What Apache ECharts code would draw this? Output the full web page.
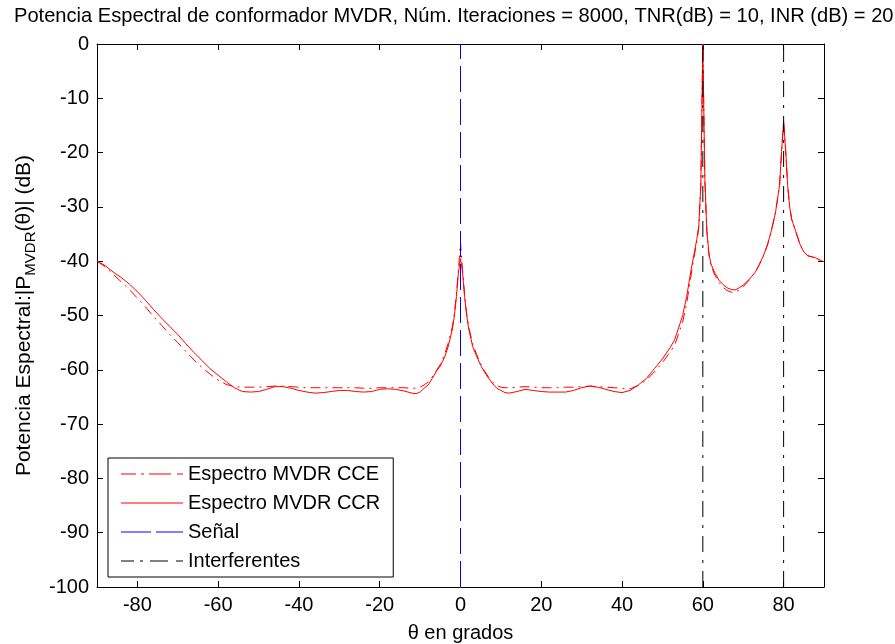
<!DOCTYPE html>
<html>
<head>
<meta charset="utf-8">
<script src="https://cdn.jsdelivr.net/npm/echarts@6/dist/echarts.min.js"></script>
<style>html,body{margin:0;padding:0;background:#fff;}#c{width:895px;height:644px;}</style>
</head>
<body>
<div id="c"></div>
<script>
var theta = [-90,-88,-86,-84,-82,-80,-78,-76,-74,-72,-70,-68,-66,-64,-62,-60,-58,-56,-54,-52,-50,-48,-46,-44,-42,-40,-38,-36,-34,-32,-30,-28,-26,-24,-22,-20,-18,-16,-14,-12,-11,-10,-9,-8,-7,-6,-5,-4,-3,-2,-1.5,-1,-0.5,0,0.5,1,1.5,2,3,4,5,6,7,8,9,10,11,12,14,16,18,20,22,24,26,28,30,32,34,36,38,40,42,44,46,48,50,52,53,54,55,56,57,58,58.5,59,59.5,60,60.5,61,61.5,62,63,64,65,66,67,68,69,70,71,72,73,74,75,76,77,78,78.5,79,79.5,80,80.5,81,81.5,82,83,84,85,86,87,88,89,90];

var ccr = [-40.0,-40.8,-42.0,-43.0,-44.2,-45.6,-47.2,-48.9,-50.5,-52.0,-53.5,-55.2,-56.8,-58.3,-59.8,-61.0,-62.2,-63.3,-64.0,-64.1,-64.0,-63.6,-63.1,-63.1,-63.4,-63.8,-64.1,-64.3,-64.2,-64.0,-63.8,-63.8,-64.0,-64.1,-64.0,-63.6,-63.5,-63.6,-63.9,-64.3,-64.4,-64.1,-63.4,-62.8,-61.6,-60.3,-59.3,-57.8,-55.6,-52.5,-50.0,-46.5,-42.0,-39.5,-42.0,-46.5,-49.8,-52.3,-55.7,-57.5,-59.2,-60.5,-61.6,-62.6,-63.4,-63.8,-64.2,-64.3,-64.0,-63.6,-63.8,-64.0,-64.1,-64.1,-64.1,-63.8,-63.3,-63.0,-63.2,-63.6,-64.0,-64.2,-63.8,-62.8,-61.6,-59.8,-58.0,-55.8,-54.5,-52.3,-50.0,-46.5,-42.0,-38.0,-36.0,-33.5,-26.0,0,-25.0,-34.5,-38.5,-40.5,-42.2,-43.5,-44.3,-44.9,-45.2,-45.3,-44.9,-44.4,-43.7,-42.9,-42.0,-40.6,-39.0,-37.0,-34.3,-31.0,-28.5,-26.0,-19.8,-14.3,-19.5,-26.0,-30.0,-32.3,-34.5,-36.8,-38.3,-39.0,-39.2,-39.4,-39.8,-40.1];

var cce = [-40.0,-41.0,-42.4,-43.8,-45.2,-46.8,-48.4,-50.2,-51.8,-53.5,-55.0,-56.6,-58.2,-59.6,-60.8,-61.9,-62.7,-63.1,-63.2,-63.2,-63.2,-63.1,-63.0,-63.0,-63.1,-63.2,-63.3,-63.3,-63.3,-63.3,-63.3,-63.3,-63.3,-63.4,-63.4,-63.3,-63.3,-63.3,-63.3,-63.4,-63.4,-63.2,-62.8,-62.2,-61.3,-60.2,-59.0,-57.3,-55.0,-52.0,-49.5,-46.0,-41.5,-36.5,-41.5,-46.0,-49.5,-52.0,-55.2,-57.2,-58.9,-60.3,-61.4,-62.3,-62.9,-63.2,-63.3,-63.3,-63.2,-63.1,-63.2,-63.3,-63.3,-63.3,-63.2,-63.2,-63.1,-63.0,-63.1,-63.2,-63.3,-63.4,-63.5,-62.9,-61.9,-60.4,-58.7,-56.6,-55.5,-53.4,-51.2,-47.8,-43.0,-38.5,-36.4,-33.8,-26.0,0,-25.0,-34.5,-38.7,-40.8,-42.6,-43.9,-44.8,-45.4,-45.7,-45.7,-45.3,-44.7,-43.9,-43.0,-42.0,-40.6,-39.0,-37.0,-34.3,-31.0,-28.5,-26.0,-19.8,-14.3,-19.5,-26.0,-30.0,-32.3,-34.5,-36.8,-38.3,-39.0,-39.2,-39.4,-39.8,-40.1];

var signalAngle = [0];
var interfAngles = [60, 80];
var xTicks = [-80,-60,-40,-20,0,20,40,60,80];
var yRange = [-100, 0];
var legendNames = ['Espectro MVDR CCE','Espectro MVDR CCR','Señal','Interferentes'];
var titleText = 'Potencia Espectral de conformador MVDR, Núm. Iteraciones = 8000, TNR(dB) = 10, INR (dB) = 20';

var FONT = "'Liberation Sans',Arial,Helvetica,sans-serif";
var RED = '#ff0000', BLUE = '#0000ff', BLACK = '#000000';

function pairs(xs, ys){ return xs.map(function(x,i){ return [x, ys[i]]; }); }

// legend glyphs (62 x 14 box): thin bars forming the dash patterns
function seg(a, b){ return 'M' + a + ',6.5H' + b + 'V7.5H' + a + 'Z'; }
function icon(segs){
  var p = 'path://M0,0L0.01,0L0,0.01Z M62,14L61.99,14L62,13.99Z ';
  segs.forEach(function(s){ p += seg(s[0], s[1]) + ' '; });
  return p;
}
var iconCCE = icon([[0,15],[20,23],[28,50],[56,62]]);
var iconCCR = icon([[0,62]]);
var iconSig = icon([[0,30],[35,62]]);
var iconInt = icon([[0,13],[19,22],[29,47],[55,62]]);

var series = [
  { name:legendNames[0], type:'line', data: pairs(theta, cce), showSymbol:false, symbol:'none',
    lineStyle:{ color:RED, width:1, type:[10,5,2,5] }, itemStyle:{color:RED}, z:2 },
  { name:legendNames[1], type:'line', data: pairs(theta, ccr), showSymbol:false, symbol:'none',
    lineStyle:{ color:RED, width:1 }, itemStyle:{color:RED}, z:3 }
];
signalAngle.forEach(function(a){
  series.push({ name:legendNames[2], type:'line', data:[[a, yRange[0]],[a, yRange[1]]], showSymbol:false, symbol:'none',
    lineStyle:{ color:BLUE, width:1, type:[26,7] }, itemStyle:{color:BLUE}, z:4 });
});
interfAngles.forEach(function(a){
  series.push({ name:legendNames[3], type:'line', data:[[a, yRange[0]],[a, yRange[1]]], showSymbol:false, symbol:'none',
    lineStyle:{ color:BLACK, width:1, type:[16,8,3,8] }, itemStyle:{color:BLACK}, z:4 });
});

var chart = echarts.init(document.getElementById('c'), null, {renderer:'canvas'});
chart.setOption({
  animation:false,
  backgroundColor:'#ffffff',
  textStyle:{ fontFamily: FONT },
  graphic:[{ type:'text', x:14, y:6, style:{ text:titleText, fontSize:20.1, fontFamily:FONT, fill:'#000', align:'left', verticalAlign:'top' } }],
  grid:{ left:97, right:71, top:44, bottom:57, containLabel:false, outerBoundsMode:'none' },
  legend:{
    orient:'vertical', left:108, top:458,
    data:[
      { name:legendNames[0], icon:iconCCE, itemStyle:{ color:RED } },
      { name:legendNames[1], icon:iconCCR, itemStyle:{ color:RED } },
      { name:legendNames[2], icon:iconSig, itemStyle:{ color:BLUE } },
      { name:legendNames[3], icon:iconInt, itemStyle:{ color:BLACK } }
    ],
    itemWidth:62, itemHeight:14, itemGap:9,
    padding:[6,13,6,13],
    borderColor:'#000', borderWidth:1, backgroundColor:'#fff', borderRadius:0,
    textStyle:{ fontSize:20, fontFamily:FONT, color:'#000', lineHeight:20 },
    selectedMode:false
  },
  xAxis:[
    { type:'value', min:-90, max:90, position:'bottom',
      name:'θ en grados', nameLocation:'middle', nameGap:36,
      nameTextStyle:{ fontSize:20, fontFamily:FONT, color:'#000' },
      axisLine:{ show:true, onZero:false, lineStyle:{color:'#000', width:1} },
      axisTick:{ show:true, inside:true, length:6, customValues:xTicks, lineStyle:{color:'#000'} },
      axisLabel:{ show:true, customValues:xTicks, fontSize:20, fontFamily:FONT, color:'#000', margin:8 },
      splitLine:{ show:false } },
    { type:'value', min:-90, max:90, position:'top',
      axisLine:{ show:true, onZero:false, lineStyle:{color:'#000', width:1} },
      axisTick:{ show:true, inside:true, length:6, customValues:xTicks, lineStyle:{color:'#000'} },
      axisLabel:{ show:false }, splitLine:{ show:false } }
  ],
  yAxis:[
    { type:'value', min:yRange[0], max:yRange[1], interval:10, position:'left',
      name:'{a|Potencia Espectral:|P}{s|MVDR}{a|(θ)| (dB)}', nameLocation:'middle', nameGap:58,
      nameTextStyle:{ fontFamily:FONT, color:'#000',
        rich:{ a:{ fontSize:21, fontFamily:FONT, lineHeight:28, verticalAlign:'middle', color:'#000' },
               s:{ fontSize:15, fontFamily:FONT, lineHeight:12, verticalAlign:'bottom', color:'#000' } } },
      axisLine:{ show:true, onZero:false, lineStyle:{color:'#000', width:1} },
      axisTick:{ show:true, inside:true, length:6, lineStyle:{color:'#000'} },
      axisLabel:{ show:true, fontSize:20, fontFamily:FONT, color:'#000', margin:8 },
      splitLine:{ show:false } },
    { type:'value', min:yRange[0], max:yRange[1], interval:10, position:'right',
      axisLine:{ show:true, onZero:false, lineStyle:{color:'#000', width:1} },
      axisTick:{ show:true, inside:true, length:6, lineStyle:{color:'#000'} },
      axisLabel:{ show:false }, splitLine:{ show:false } }
  ],
  series: series
});
</script>
</body>
</html>
